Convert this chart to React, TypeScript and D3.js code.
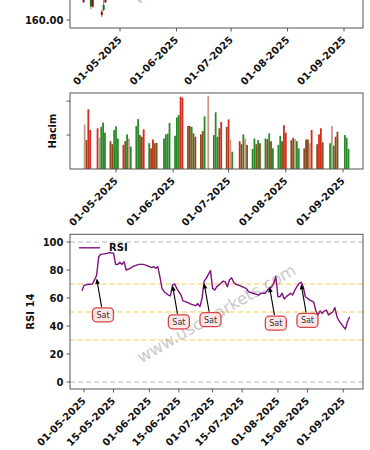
import React, { useEffect, useRef } from 'react';
import * as d3 from 'd3';

// all day numbers are days counted from 01-05-2025
const candleDays = [-20, -16, -15, -10, -9, -8];
const candleOpen = [172, 165.5, 171, 163.3, 164, 175];
const candleHigh = [174, 172, 172, 164, 168, 176];
const candleLow = [166.8, 164.3, 165, 161.2, 163.5, 166.9];
const candleClose = [167.2, 170, 165.3, 162, 166, 167];

const volumeDays = [
  -17, -16, -15, -14,
  -10, -9, -8, -7, -6,
  -3, -2, -1, 0, 1,
  4, 5, 6, 7, 8,
  11, 12, 13, 14, 15,
  18, 19, 20, 21, 22,
  26, 27, 28, 29,
  32, 33, 34, 35, 36,
  39, 40, 41, 42, 43,
  46, 47, 48, 50,
  53, 54, 55, 56, 57,
  60, 61, 62, 63,
  67, 68, 69, 70, 71,
  74, 75, 76, 77, 78,
  81, 82, 83, 84, 85,
  88, 89, 90, 91, 92,
  95, 96, 97, 98, 99,
  102, 103, 104, 105, 106,
  109, 110, 111, 112,
  116, 117, 118, 119, 120,
  124, 125, 126,
];
const volumeValues = [
  1.31, 0.85, 1.76, 1.15,
  1.2, 0.92, 1.24, 1.37, 1.07,
  0.82, 0.73, 1.15, 1.26, 0.9,
  0.71, 0.82, 1.02, 0.9, 0.66,
  1.27, 1.47, 1.0, 0.95, 1.17,
  0.76, 0.61, 0.87, 0.76, 0.77,
  0.9, 1.02, 1.04, 1.36,
  0.98, 1.52, 1.59, 2.13, 2.1,
  1.27, 1.27, 1.24, 1.05, 0.95,
  1.02, 1.12, 1.55, 2.16,
  1.0, 1.67, 0.95, 1.2, 1.39,
  1.24, 1.46, 0.87, 0.51,
  0.82, 0.73, 1.02, 0.9, 0.71,
  0.59, 0.9, 0.73, 0.85, 0.76,
  0.9, 0.88, 1.05, 0.82, 0.61,
  0.71, 0.98, 0.82, 1.29, 1.07,
  0.85, 0.92, 0.88, 0.82, 0.61,
  0.61, 0.87, 0.87, 0.76, 1.15,
  0.73, 1.02, 1.2, 0.79,
  0.76, 1.27, 0.69, 0.95, 1.1,
  1.0, 0.92, 0.59,
];
// g = up day, r = down day, b / t = overlapping bars
const volumeKinds = (
  'tbrr' + 'rtggg' + 'bbggg' + 'rbgtg' + 'ggbbr' + 'gbrbb' + 'gggg' + 'gggrr' +
  'bbgbb' + 'bbgt' + 'gggbr' + 'brtg' + 'rbgtb' + 'ggbgb' + 'gbgbg' + 'ggbrr' +
  'bbtgg' + 'bbbtr' + 'brrb' + 'gtgbb' + 'ggg'
).split('');

const rsiDays = [
  -1, 0, 2, 4, 5, 6, 7, 8, 11, 12, 14, 15, 16, 17, 18, 19, 20, 22, 23, 26,
  28, 30, 32, 33, 34, 35, 36, 37, 38, 40, 41, 42, 43, 44, 45, 46, 47, 49, 51, 53,
  54, 55, 56, 57, 58, 59, 60, 61, 62, 63, 65, 66, 67, 68, 69, 70, 71, 72, 74, 76,
  77, 78, 80, 82, 83, 84, 86, 87, 89, 90, 91, 92, 93, 94, 95, 96, 98, 99, 100, 101,
  102, 103, 104, 105, 106, 107, 109, 110, 111, 112, 113, 114, 115, 116, 117, 118, 119, 120, 121, 123,
  124, 125, 126,
];
const rsiValues = [
  65.2, 69, 69.8, 70, 72.9, 76.4, 89.5, 91.2, 91.9, 92.4, 92, 84, 84, 85.5, 84, 86, 80, 81.2, 82.4, 84,
  84, 83.1, 81.7, 82.4, 81.2, 82.4, 75.2, 66.9, 64.5, 62.1, 61.5, 69.3, 70, 66.9, 64.5, 62.1, 57.9, 56.9, 55.5, 54.5,
  56, 53.8, 59.8, 72.1, 74, 76.9, 79.5, 66.9, 65.7, 68.1, 70.5, 72.1, 71.5, 68, 72.9, 74.5, 71.2, 69.8, 68.8, 67.4,
  66.9, 64.5, 63.4, 62.6, 62.1, 63.4, 63.4, 65.7, 68.1, 70.5, 75.2, 60.9, 61, 63.4, 59.3, 61, 63.4, 62.1, 65.7, 68.1,
  70.5, 71.2, 68, 60.9, 59.8, 58.7, 57, 50.7, 47.9, 50.7, 49, 50.7, 51.4, 47.9, 49, 50, 53.1, 46.6, 43.6, 39.5,
  37.9, 43.1, 46.6,
];

const sellDays = [6, 42, 57, 88, 103];
const sellValues = [74, 69, 70.5, 68, 70];

const monthTicks = ['01-05-2025', '01-06-2025', '01-07-2025', '01-08-2025', '01-09-2025'];
const rsiTicks = [
  '01-05-2025', '15-05-2025', '01-06-2025', '15-06-2025', '01-07-2025',
  '15-07-2025', '01-08-2025', '15-08-2025', '01-09-2025',
];
const priceTicks = [160];
const volumeTicks = [1, 2];
const rsiYTicks = [0, 20, 40, 60, 80, 100];
const rsiLevels = [30, 50, 70];
const rsiBounds = [0, 100];

const BASE = new Date(2025, 4, 1);
const toDate = (n: number) => new Date(BASE.getTime() + n * 864e5);
const parseTick = d3.timeParse('%d-%m-%Y');

const FONT = 'DejaVu Sans, sans-serif';
const SPINE = '#555';
const WATERMARK = 'www.uscmarkets.com';
const volumeColor: Record<string, string> = { g: '#2a8a2a', r: '#d62a1e', b: '#8b4a1c', t: '#c99a86' };

const App: React.FC = () => {
  const ref = useRef<SVGSVGElement>(null);

  useEffect(() => {
    if (!ref.current) return;
    const svg = d3.select(ref.current);
    svg.selectAll('*').remove();

    const left = 70;
    const right = 363;

    const addFrame = (top: number, bottom: number) => {
      svg.append('rect')
        .attr('x', left).attr('y', top)
        .attr('width', right - left).attr('height', bottom - top)
        .attr('fill', 'none').attr('stroke', SPINE).attr('stroke-width', 1);
    };

    const addXTicks = (x: d3.ScaleTime<number, number>, ticks: string[], bottom: number) => {
      ticks.forEach(t => {
        const px = x(parseTick(t) as Date);
        svg.append('line')
          .attr('x1', px).attr('x2', px).attr('y1', bottom).attr('y2', bottom + 3.5)
          .attr('stroke', '#333').attr('stroke-width', 0.8);
        svg.append('text')
          .attr('transform', `translate(${px + 2.5},${bottom + 12.5}) rotate(-45)`)
          .attr('text-anchor', 'end')
          .attr('font-family', FONT).attr('font-weight', 'bold').attr('font-size', 10)
          .attr('fill', '#111')
          .text(t);
      });
    };

    const addYTicks = (y: d3.ScaleLinear<number, number>, ticks: number[], fmt: ((v: number) => string) | null) => {
      ticks.forEach(v => {
        svg.append('line')
          .attr('x1', left - 3.5).attr('x2', left).attr('y1', y(v)).attr('y2', y(v))
          .attr('stroke', '#333').attr('stroke-width', 0.8);
        if (fmt) {
          svg.append('text')
            .attr('x', left - 6.5).attr('y', y(v)).attr('dy', '0.36em')
            .attr('text-anchor', 'end')
            .attr('font-family', FONT).attr('font-weight', 'bold').attr('font-size', 10)
            .attr('fill', '#111')
            .text(fmt(v));
        }
      });
    };

    const addYLabel = (label: string, cx: number, cy: number) => {
      svg.append('text')
        .attr('transform', `translate(${cx},${cy}) rotate(-90)`)
        .attr('text-anchor', 'middle').attr('dominant-baseline', 'central')
        .attr('font-family', FONT).attr('font-weight', 'bold').attr('font-size', 10)
        .attr('fill', '#111')
        .text(label);
    };

    const addWatermark = (cx: number, cy: number) => {
      svg.append('text')
        .attr('transform', `translate(${cx},${cy}) rotate(-30)`)
        .attr('text-anchor', 'middle').attr('dominant-baseline', 'central')
        .attr('font-family', FONT).attr('font-size', 16.5)
        .attr('fill', '#888').attr('opacity', 0.45)
        .text(WATERMARK);
    };

    // ---- price panel (only its bottom edge is in view)
    const priceBottom = 28;
    const xTop = d3.scaleTime().domain([toDate(-27.46), toDate(133.43)]).range([left, right]);
    const yPrice = d3.scaleLinear().domain([156.8, 168]).range([priceBottom, 0]);

    addWatermark(213, -45);
    candleDays.forEach((d, i) => {
      const up = candleClose[i] >= candleOpen[i];
      const c = up ? '#1f8a1f' : '#c62020';
      const px = xTop(toDate(d));
      svg.append('line')
        .attr('x1', px).attr('x2', px)
        .attr('y1', yPrice(candleHigh[i])).attr('y2', yPrice(candleLow[i]))
        .attr('stroke', c).attr('stroke-width', 0.8);
      const y0 = yPrice(Math.max(candleOpen[i], candleClose[i]));
      const y1 = yPrice(Math.min(candleOpen[i], candleClose[i]));
      svg.append('rect')
        .attr('x', px - 1).attr('y', y0).attr('width', 2).attr('height', Math.max(0.8, y1 - y0))
        .attr('fill', up ? '#1f6f1f' : '#7a1414');
    });
    svg.append('rect')
      .attr('x', left).attr('y', -100).attr('width', right - left).attr('height', priceBottom + 100)
      .attr('fill', 'none').attr('stroke', SPINE).attr('stroke-width', 1);
    addYTicks(yPrice, priceTicks, v => v.toFixed(2));
    addXTicks(xTop, monthTicks, priceBottom);

    // ---- volume panel
    const volTop = 93;
    const volBottom = 169;
    const xVol = d3.scaleTime().domain([toDate(-24.93), toDate(133.84)]).range([left, right]);
    const yVol = d3.scaleLinear().domain([0, 2.24]).range([volBottom, volTop]);

    volumeDays.forEach((d, i) => {
      const px = xVol(toDate(d));
      svg.append('rect')
        .attr('x', px - 0.9).attr('y', yVol(volumeValues[i]))
        .attr('width', 1.8).attr('height', volBottom - yVol(volumeValues[i]))
        .attr('fill', volumeColor[volumeKinds[i]]);
    });
    addFrame(volTop, volBottom);
    addYTicks(yVol, volumeTicks, null);
    addXTicks(xVol, monthTicks, volBottom);
    addYLabel('Hacim', 52, (volTop + volBottom) / 2);

    // ---- RSI panel
    const rsiTop = 234.3;
    const rsiBottom = 389;
    const xRsi = d3.scaleTime().domain([toDate(-6.64), toDate(132.35)]).range([left, right]);
    const yRsi = d3.scaleLinear().domain([-5, 105.5]).range([rsiBottom, rsiTop]);

    rsiBounds.forEach(v => {
      svg.append('line')
        .attr('x1', left).attr('x2', right).attr('y1', yRsi(v)).attr('y2', yRsi(v))
        .attr('stroke', '#b4b4b4').attr('stroke-width', 1).attr('stroke-dasharray', '5,3');
    });
    rsiLevels.forEach(v => {
      svg.append('line')
        .attr('x1', left).attr('x2', right).attr('y1', yRsi(v)).attr('y2', yRsi(v))
        .attr('stroke', '#edcb5c').attr('stroke-width', 1).attr('stroke-dasharray', '5,3');
    });

    addWatermark((left + right) / 2, (rsiTop + rsiBottom) / 2 + 2);

    const line = d3.line<number>()
      .x((_, i) => xRsi(toDate(rsiDays[i])))
      .y(v => yRsi(v));
    svg.append('path')
      .attr('d', line(rsiValues))
      .attr('fill', 'none').attr('stroke', '#80107f').attr('stroke-width', 1.4)
      .attr('stroke-linejoin', 'round');

    // "Sat" annotations
    sellDays.forEach((d, i) => {
      const tx = xRsi(toDate(d));
      const ty = yRsi(sellValues[i]);
      const cx = xRsi(toDate(d + 3));
      const cy = yRsi(sellValues[i] - 26);
      const bw = 21;
      const bh = 14;
      const t = (bh / 2 + 1) / (cy - ty);
      const sx = cx + (tx - cx) * t;
      const sy = cy - bh / 2 - 1;
      const ang = Math.atan2(ty - sy, tx - sx);
      const hl = 5.5;
      const hw = 2.3;
      const bx = tx - hl * Math.cos(ang);
      const by = ty - hl * Math.sin(ang);
      svg.append('line')
        .attr('x1', sx).attr('y1', sy).attr('x2', bx).attr('y2', by)
        .attr('stroke', '#000').attr('stroke-width', 1.1);
      svg.append('path')
        .attr('d', `M${tx},${ty}L${bx + hw * Math.sin(ang)},${by - hw * Math.cos(ang)}L${bx - hw * Math.sin(ang)},${by + hw * Math.cos(ang)}Z`)
        .attr('fill', '#000');
      svg.append('rect')
        .attr('x', cx - bw / 2).attr('y', cy - bh / 2).attr('width', bw).attr('height', bh)
        .attr('rx', 4).attr('fill', '#fde6e6').attr('stroke', '#d64545').attr('stroke-width', 1.3);
      svg.append('text')
        .attr('x', cx).attr('y', cy).attr('dy', '0.35em')
        .attr('text-anchor', 'middle')
        .attr('font-family', FONT).attr('font-size', 8).attr('fill', '#333')
        .text('Sat');
    });

    // legend
    svg.append('line')
      .attr('x1', left + 9).attr('x2', left + 30).attr('y1', rsiTop + 13.5).attr('y2', rsiTop + 13.5)
      .attr('stroke', '#80107f').attr('stroke-width', 1.4);
    svg.append('text')
      .attr('x', left + 39).attr('y', rsiTop + 13.5).attr('dy', '0.36em')
      .attr('font-family', FONT).attr('font-weight', 'bold').attr('font-size', 10)
      .attr('fill', '#111')
      .text('RSI');

    addFrame(rsiTop, rsiBottom);
    addYTicks(yRsi, rsiYTicks, v => String(v));
    addXTicks(xRsi, rsiTicks, rsiBottom);
    addYLabel('RSI 14', 30, (rsiTop + rsiBottom) / 2);
  }, []);

  return (
    <svg
      ref={ref}
      width={370}
      height={450}
      style={{ position: 'absolute', left: 0, top: 0, background: '#fff' }}
    />
  );
};

export default App;
